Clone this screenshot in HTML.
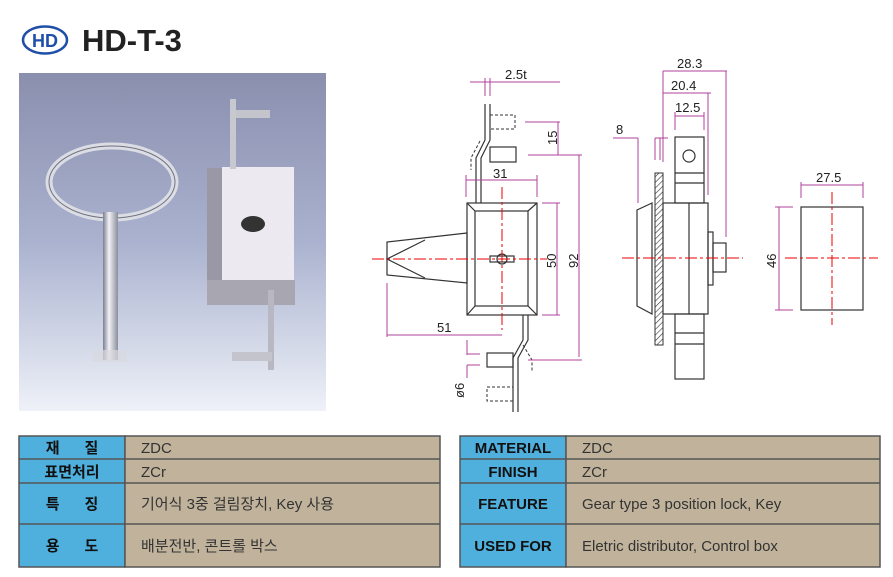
<!DOCTYPE html>
<html><head><meta charset="utf-8"><style>
body{margin:0;background:#fff;width:893px;height:577px;overflow:hidden;font-family:"Liberation Sans","Noto Sans CJK KR",sans-serif}
svg{position:absolute;left:0;top:0}
</style></head><body>
<svg width="893" height="577" viewBox="0 0 893 577" xmlns="http://www.w3.org/2000/svg">
<defs>
<linearGradient id="bg" x1="0" y1="0" x2="0" y2="1">
<stop offset="0" stop-color="#8a8fae"/><stop offset="0.5" stop-color="#aab2cf"/><stop offset="1" stop-color="#eef1f8"/></linearGradient>
<linearGradient id="met" x1="0" y1="0" x2="1" y2="0">
<stop offset="0" stop-color="#7a7f90"/><stop offset="0.4" stop-color="#f2f2f6"/><stop offset="1" stop-color="#8a8e9c"/></linearGradient>
<pattern id="hatch" width="4" height="4" patternUnits="userSpaceOnUse" patternTransform="rotate(45)">
<line x1="0" y1="0" x2="0" y2="4" stroke="#333" stroke-width="1.2"/></pattern>
</defs>
<!-- logo -->
<ellipse cx="45" cy="40" rx="22" ry="13.5" fill="#fff" stroke="#1f4fa8" stroke-width="2.5"/>
<text x="45" y="47" font-size="18" font-weight="bold" fill="#1f4fa8" text-anchor="middle" font-family="Liberation Sans">HD</text>
<text x="82" y="51" font-size="31" font-weight="bold" fill="#222">HD-T-3</text>
<!-- photo -->
<rect x="19" y="73" width="307" height="338" fill="url(#bg)"/>
<ellipse cx="112" cy="182" rx="63" ry="36" fill="none" stroke="#dcdde4" stroke-width="7"/>
<ellipse cx="112" cy="182" rx="63" ry="36" fill="none" stroke="#6d7080" stroke-width="1"/>
<rect x="103" y="212" width="15" height="148" fill="url(#met)"/>
<rect x="93" y="350" width="34" height="12" fill="#d8d8de" opacity="0.7"/>
<rect x="207" y="168" width="16" height="137" fill="#9a98a4"/>
<rect x="222" y="167" width="72" height="113" fill="#eceaf0"/>
<rect x="207" y="280" width="88" height="25" fill="#a8a6b0"/>
<ellipse cx="253" cy="224" rx="12" ry="8" fill="#333"/>
<rect x="230" y="99" width="6" height="70" fill="#c8c8d0"/>
<rect x="236" y="110" width="34" height="8" fill="#c4c4cc"/>
<rect x="268" y="290" width="6" height="80" fill="#b8b8c2"/>
<rect x="232" y="352" width="40" height="9" fill="#c4c4cc"/>
<!-- front view -->
<g fill="none" stroke="#333" stroke-width="1.2">
<rect x="467" y="203" width="70" height="112"/>
<rect x="475" y="211" width="53" height="95"/>
<line x1="467" y1="203" x2="475" y2="211"/><line x1="537" y1="203" x2="528" y2="211"/>
<line x1="467" y1="315" x2="475" y2="306"/><line x1="537" y1="315" x2="528" y2="306"/>
<polygon points="467,233 387,242 387,275 467,283"/>
<polyline points="425,240 387,259 425,278"/>
<circle cx="502" cy="259" r="5"/>
<rect x="490" y="256" width="24" height="6"/>
<polyline points="485,104 485,140 476,158 476,203"/><polyline points="490,104 490,140 481,158 481,203"/>
<rect x="490" y="147" width="26" height="15"/>
<polyline points="523,315 523,340 513,358 513,412"/><polyline points="528,315 528,340 518,358 518,412"/>
<rect x="487" y="353" width="26" height="14"/>
</g>
<g fill="none" stroke="#333" stroke-width="1" stroke-dasharray="3,2">
<rect x="490" y="115" width="25" height="14"/>
<polyline points="480,141 471,158 471,170"/>
<rect x="487" y="387" width="26" height="14"/>
<polyline points="523,345 532,360 532,372"/>
</g>
<!-- side view -->
<g fill="none" stroke="#333" stroke-width="1.2">
<rect x="663" y="203" width="45" height="111"/>
<line x1="689" y1="203" x2="689" y2="314"/>
<polygon points="652,203 637,210 637,306 652,314"/>
<rect x="675" y="137" width="29" height="66"/>
<line x1="675" y1="173" x2="704" y2="173"/><line x1="675" y1="183" x2="704" y2="183"/>
<circle cx="689" cy="156" r="6"/>
<rect x="675" y="314" width="29" height="65"/>
<line x1="675" y1="333" x2="704" y2="333"/><line x1="675" y1="344" x2="704" y2="344"/>
<rect x="708" y="232" width="5" height="53"/>
<rect x="713" y="243" width="13" height="29"/>
<rect x="801" y="207" width="62" height="103"/>
</g>
<rect x="655" y="173" width="8" height="172" fill="url(#hatch)" stroke="#333" stroke-width="1"/>
<!-- centerlines -->
<g stroke="#e00" stroke-width="1" stroke-dasharray="12,3,3,3">
<line x1="372" y1="259" x2="547" y2="259"/><line x1="502" y1="187" x2="502" y2="330"/>
<line x1="622" y1="258" x2="743" y2="258"/>
<line x1="785" y1="258" x2="878" y2="258"/><line x1="832" y1="192" x2="832" y2="325"/>
</g>
<!-- dims -->
<g stroke="#b0409a" stroke-width="1" fill="none">
<line x1="470" y1="82" x2="560" y2="82"/><line x1="485" y1="78" x2="485" y2="96"/><line x1="490" y1="78" x2="490" y2="96"/>
<line x1="525" y1="122" x2="560" y2="122"/><line x1="528" y1="155" x2="580" y2="155"/><line x1="558" y1="122" x2="558" y2="155"/>
<line x1="580" y1="155" x2="582" y2="155"/><line x1="579" y1="155" x2="579" y2="357"/><line x1="528" y1="360" x2="582" y2="360"/>
<line x1="466" y1="180" x2="537" y2="180"/><line x1="466" y1="175" x2="466" y2="197"/><line x1="537" y1="175" x2="537" y2="197"/>
<line x1="542" y1="203" x2="560" y2="203"/><line x1="542" y1="315" x2="560" y2="315"/><line x1="557" y1="203" x2="557" y2="315"/>
<line x1="387" y1="283" x2="387" y2="337"/><line x1="387" y1="335" x2="502" y2="335"/>
<line x1="467" y1="340" x2="467" y2="355"/><line x1="467" y1="354" x2="480" y2="354"/><line x1="467" y1="365" x2="480" y2="365"/><line x1="467" y1="365" x2="467" y2="378"/>
<line x1="663" y1="71" x2="727" y2="71"/><line x1="726" y1="71" x2="726" y2="237"/><line x1="663" y1="71" x2="663" y2="162"/>
<line x1="663" y1="93" x2="711" y2="93"/><line x1="708" y1="93" x2="708" y2="195"/>
<line x1="675" y1="116" x2="704" y2="116"/><line x1="675" y1="112" x2="675" y2="130"/><line x1="704" y1="112" x2="704" y2="130"/>
<line x1="613" y1="138" x2="638" y2="138"/><line x1="638" y1="138" x2="638" y2="203"/><line x1="655" y1="138" x2="668" y2="138"/><line x1="655" y1="138" x2="655" y2="160"/><line x1="660" y1="138" x2="660" y2="160"/>
<line x1="801" y1="185" x2="863" y2="185"/><line x1="801" y1="182" x2="801" y2="198"/><line x1="863" y1="182" x2="863" y2="198"/>
<line x1="775" y1="207" x2="793" y2="207"/><line x1="775" y1="310" x2="793" y2="310"/><line x1="779" y1="207" x2="779" y2="310"/>
</g>
<g font-size="13" fill="#222" font-family="Liberation Sans">
<text x="505" y="79">2.5t</text>
<text x="493" y="178">31</text>
<text x="437" y="332">51</text>
<text x="677" y="68">28.3</text><text x="671" y="90">20.4</text><text x="675" y="112">12.5</text>
<text x="616" y="134">8</text><text x="816" y="182">27.5</text>
<text transform="translate(557,145) rotate(-90)">15</text>
<text transform="translate(556,268) rotate(-90)">50</text>
<text transform="translate(578,268) rotate(-90)">92</text>
<text transform="translate(464,398) rotate(-90)">ø6</text>
<text transform="translate(776,268) rotate(-90)">46</text>
</g>
<!-- tables -->
<g stroke="#555" stroke-width="1.5">
<rect x="19" y="436" width="106" height="131" fill="#4fb0de"/>
<rect x="125" y="436" width="315" height="131" fill="#c1b39b"/>
<rect x="460" y="436" width="106" height="131" fill="#4fb0de"/>
<rect x="566" y="436" width="314" height="131" fill="#c1b39b"/>
<line x1="19" y1="459" x2="440" y2="459"/><line x1="19" y1="483" x2="440" y2="483"/><line x1="19" y1="524" x2="440" y2="524"/>
<line x1="460" y1="459" x2="880" y2="459"/><line x1="460" y1="483" x2="880" y2="483"/><line x1="460" y1="524" x2="880" y2="524"/>
</g>
<g font-size="15" font-weight="bold" fill="#111" text-anchor="middle">
<text x="72" y="453">재&#160;&#160;&#160;&#160;&#160;&#160;질</text><text x="72" y="477">표면처리</text>
<text x="72" y="509">특&#160;&#160;&#160;&#160;&#160;&#160;징</text><text x="72" y="551">용&#160;&#160;&#160;&#160;&#160;&#160;도</text>
<text x="513" y="453">MATERIAL</text><text x="513" y="477">FINISH</text>
<text x="513" y="509">FEATURE</text><text x="513" y="551">USED FOR</text>
</g>
<g font-size="15" fill="#333">
<text x="141" y="453">ZDC</text><text x="141" y="477">ZCr</text>
<text x="141" y="509">기어식 3중 걸림장치, Key 사용</text><text x="141" y="551">배분전반, 콘트롤 박스</text>
<text x="582" y="453">ZDC</text><text x="582" y="477">ZCr</text>
<text x="582" y="509">Gear type 3 position lock, Key</text><text x="582" y="551">Eletric distributor, Control box</text>
</g>
</svg>
</body></html>
